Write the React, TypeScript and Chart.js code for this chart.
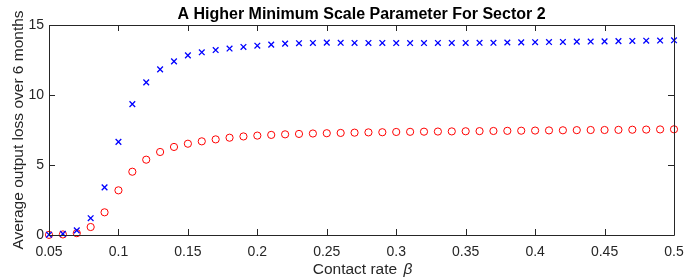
import React, { useEffect, useRef } from "react";
import { Chart, registerables } from "chart.js";

Chart.register(...registerables);

const beta = [
  0.05, 0.06, 0.07, 0.08, 0.09, 0.1, 0.11, 0.12, 0.13, 0.14, 0.15, 0.16, 0.17, 0.18, 0.19, 0.2,
  0.21, 0.22, 0.23, 0.24, 0.25, 0.26, 0.27, 0.28, 0.29, 0.3, 0.31, 0.32, 0.33, 0.34, 0.35, 0.36,
  0.37, 0.38, 0.39, 0.4, 0.41, 0.42, 0.43, 0.44, 0.45, 0.46, 0.47, 0.48, 0.49, 0.5,
];

const blueCross = [
  0.02, 0.08, 0.33, 1.2, 3.4, 6.65, 9.35, 10.9, 11.83, 12.4, 12.83, 13.05, 13.21, 13.32, 13.43, 13.52,
  13.6, 13.67, 13.7, 13.72, 13.74, 13.73, 13.72, 13.72, 13.72, 13.71, 13.71, 13.71, 13.72, 13.72, 13.72, 13.73,
  13.73, 13.75, 13.76, 13.77, 13.78, 13.79, 13.81, 13.82, 13.83, 13.85, 13.86, 13.88, 13.89, 13.91,
];

const redCircle = [
  0.01, 0.04, 0.13, 0.57, 1.62, 3.19, 4.52, 5.38, 5.93, 6.29, 6.52, 6.69, 6.83, 6.95, 7.04, 7.1,
  7.15, 7.19, 7.22, 7.25, 7.27, 7.29, 7.31, 7.33, 7.34, 7.36, 7.37, 7.38, 7.39, 7.4, 7.41, 7.42,
  7.43, 7.44, 7.45, 7.46, 7.47, 7.48, 7.49, 7.5, 7.5, 7.51, 7.52, 7.53, 7.54, 7.55,
];

const xTicks = [0.05, 0.1, 0.15, 0.2, 0.25, 0.3, 0.35, 0.4, 0.45, 0.5];
const yTicks = [0, 5, 10, 15];

const titleText = "A Higher Minimum Scale Parameter For Sector 2";
const yTitle = "Average output loss over 6 months";
const xTitleMain = "Contact rate ";
const xTitleSym = "β";

const AX = "#262626";
const FONT = "'Liberation Sans', Arial, Helvetica, sans-serif";

const framePlugin = {
  id: "matlabFrame",
  afterDraw(chart: any) {
    const { ctx, chartArea } = chart;
    const { left, right, top, bottom } = chartArea;
    const xs = chart.scales.x;
    const ys = chart.scales.y;
    ctx.save();
    ctx.strokeStyle = AX;
    ctx.lineWidth = 1;
    ctx.beginPath();
    ctx.rect(Math.round(left) + 0.5, Math.round(top) + 0.5, Math.round(right - left), Math.round(bottom - top));
    ctx.stroke();
    const tl = 6;
    ctx.beginPath();
    xTicks.forEach((v) => {
      const px = Math.round(xs.getPixelForValue(v)) + 0.5;
      ctx.moveTo(px, bottom);
      ctx.lineTo(px, bottom - tl);
      ctx.moveTo(px, top);
      ctx.lineTo(px, top + tl);
    });
    yTicks.forEach((v) => {
      const py = Math.round(ys.getPixelForValue(v)) + 0.5;
      ctx.moveTo(left, py);
      ctx.lineTo(left + tl, py);
      ctx.moveTo(right, py);
      ctx.lineTo(right - tl, py);
    });
    ctx.stroke();

    const cx = (left + right) / 2;
    // title
    ctx.fillStyle = "#000";
    ctx.font = `bold 16px ${FONT}`;
    ctx.textAlign = "center";
    ctx.textBaseline = "alphabetic";
    ctx.fillText(titleText, cx, 18.5);

    // x title
    ctx.fillStyle = AX;
    ctx.font = `15.5px ${FONT}`;
    const w1 = ctx.measureText(xTitleMain).width;
    ctx.font = `italic 15.5px ${FONT}`;
    const w2 = ctx.measureText(xTitleSym).width;
    const sx = cx - (w1 + w2) / 2;
    ctx.textAlign = "left";
    ctx.font = `15.5px ${FONT}`;
    ctx.fillText(xTitleMain, sx, 274);
    ctx.font = `italic 15.5px ${FONT}`;
    ctx.fillText(xTitleSym, sx + w1 + 2, 274);

    // y title
    ctx.save();
    ctx.translate(22.5, (top + bottom) / 2);
    ctx.rotate(-Math.PI / 2);
    ctx.textAlign = "center";
    ctx.font = `15.5px ${FONT}`;
    ctx.fillText(yTitle, 0, 0);
    ctx.restore();
    ctx.restore();
  },
};

export default function App() {
  const ref = useRef<HTMLCanvasElement | null>(null);
  useEffect(() => {
    if (!ref.current) return;
    const chart = new Chart(ref.current, {
      type: "scatter",
      data: {
        datasets: [
          {
            label: "blue",
            data: beta.map((b, i) => ({ x: b, y: blueCross[i] })),
            pointStyle: "crossRot",
            pointRadius: 4,
            borderColor: "#0000ff",
            backgroundColor: "#0000ff",
            borderWidth: 1.3,
            clip: false,
          },
          {
            label: "red",
            data: beta.map((b, i) => ({ x: b, y: redCircle[i] })),
            pointStyle: "circle",
            pointRadius: 3.6,
            borderColor: "#ff0000",
            backgroundColor: "rgba(0,0,0,0)",
            borderWidth: 1,
            clip: false,
          },
        ],
      },
      options: {
        animation: false,
        responsive: false,
        maintainAspectRatio: false,
        layout: { padding: { top: 25, right: 11, left: 0, bottom: 0 } },
        plugins: {
          legend: { display: false },
          tooltip: { enabled: false },
          title: { display: false },
        },
        scales: {
          x: {
            type: "linear",
            min: 0.05,
            max: 0.5,
            grid: { display: false, drawTicks: false, tickLength: 0 },
            border: { display: false },
            afterBuildTicks: (s: any) => {
              s.ticks = xTicks.map((v) => ({ value: v }));
            },
            afterFit: (s: any) => {
              s.height = 43;
              s.paddingLeft = 0;
              s.paddingRight = 0;
            },
            ticks: {
              autoSkip: false,
              maxRotation: 0,
              padding: 9,
              color: AX,
              font: { family: FONT, size: 14 },
              callback: (v: any) => String(Math.round(Number(v) * 100) / 100),
            },
          },
          y: {
            type: "linear",
            min: 0,
            max: 15,
            grid: { display: false, drawTicks: false, tickLength: 0 },
            border: { display: false },
            afterBuildTicks: (s: any) => {
              s.ticks = yTicks.map((v) => ({ value: v }));
            },
            afterFit: (s: any) => {
              s.width = 49;
              s.paddingTop = 0;
              s.paddingBottom = 0;
            },
            ticks: {
              padding: 5,
              color: AX,
              font: { family: FONT, size: 14 },
            },
          },
        },
      },
      plugins: [framePlugin],
    });
    return () => chart.destroy();
  }, []);
  return (
    <div style={{ position: "absolute", left: 0, top: 0, width: 685, height: 278, background: "#fff" }}>
      <canvas ref={ref} width={685} height={278} style={{ display: "block" }} />
    </div>
  );
}
